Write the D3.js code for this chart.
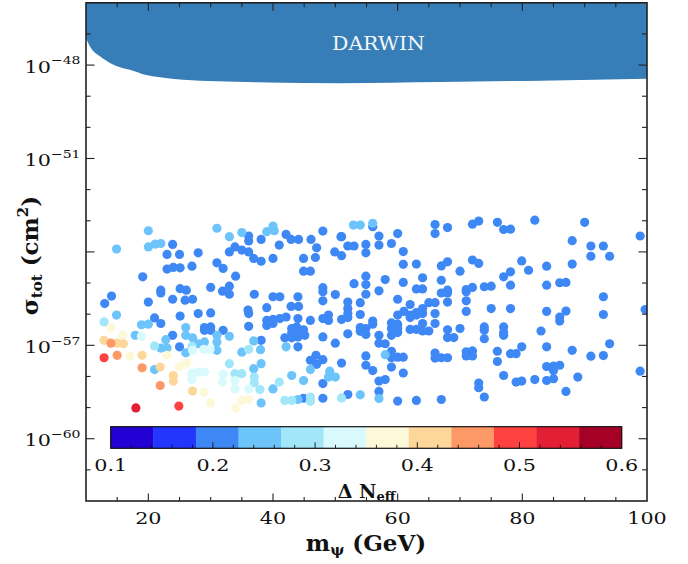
<!DOCTYPE html>
<html><head><meta charset="utf-8">
<script src="https://cdn.jsdelivr.net/npm/d3@7"></script>
<style>body{margin:0;background:#fff}svg{display:block}</style>
</head><body>
<svg id="c" width="688" height="564"></svg>
<script>
// ---------- data ----------
const xTicks=[20,40,60,80,100];
const yTickExps=[-48,-51,-57,-60];
const cbTicks=[0.1,0.2,0.3,0.4,0.5,0.6];
const cbColors=["#2300d4","#2236fe","#3e88f6","#6cc4fb","#a1e6f9","#d9fafc","#fdf8d8","#fdd699","#fc9966","#fe4242","#e31f35","#a50026"];
const darwinMass=[10,10.64,12.25,13.85,15.46,17.54,19.47,21.88,25.57,31.03,39.05,50.77,66.82,82.87,100];
const darwinLog=[-47.13,-47.40,-47.72,-47.93,-48.07,-48.18,-48.31,-48.39,-48.47,-48.52,-48.56,-48.58,-48.54,-48.50,-48.44];

const massGeV=[
52.9,54.0,56.0,56.0,66.0,68.0,72.0,73.0,76.0,77.0,
78.1,82.0,90.0,98.9,51.0,57.0,60.0,66.0,88.0,52.0,
53.0,54.9,57.0,59.0,54.9,51.0,60.9,91.0,93.0,91.0,
94.0,79.9,72.0,73.0,68.0,67.0,60.9,63.0,81.0,83.9,
88.0,70.0,54.9,58.0,64.0,67.0,77.0,78.1,53.0,54.9,
60.9,78.1,83.9,86.0,87.0,73.9,75.0,72.0,71.0,71.0,
63.0,64.0,67.0,68.0,68.0,57.0,54.9,93.0,60.0,52.0,
54.0,62.0,65.0,66.0,68.0,71.0,75.0,78.1,83.9,87.0,
99.7,52.0,52.0,52.0,51.0,54.0,60.0,61.0,62.0,62.0,
63.0,63.0,64.0,64.0,66.0,71.0,86.0,86.0,93.0,56.0,
56.0,59.0,60.0,60.0,59.0,64.0,66.0,54.0,54.0,54.9,
54.9,52.0,62.0,63.0,64.0,65.0,60.0,59.0,57.0,57.0,
58.0,68.0,70.0,68.0,69.0,73.9,73.9,73.9,77.0,77.0,
77.0,83.0,79.9,83.9,88.0,94.0,51.0,54.9,58.0,59.0,
59.0,60.0,60.9,66.0,66.0,67.0,68.0,71.0,72.0,71.0,
72.0,76.0,76.0,78.1,79.0,91.0,93.0,54.9,56.0,59.0,
60.9,57.0,58.0,73.0,73.0,77.0,79.0,79.9,82.0,83.9,
85.0,86.0,85.0,83.9,85.0,88.9,98.9,87.0,52.0,54.0,
51.0,57.0,57.0,60.0,63.0,67.0,73.9,
20.0,31.0,14.9,20.0,21.1,22.0,23.9,33.0,35.0,36.1,
36.1,38.1,39.0,40.0,40.2,42.1,42.9,44.1,46.1,48.0,
50.9,23.0,25.0,28.0,33.0,33.9,35.0,36.1,36.9,38.1,
40.0,41.0,44.9,47.0,46.8,49.9,23.0,24.0,25.1,27.0,
31.0,32.0,34.0,19.1,44.9,46.0,30.0,33.0,31.9,33.0,
22.0,22.0,25.1,26.1,37.0,48.0,48.0,50.0,14.1,13.0,
20.0,23.9,25.9,27.1,40.0,41.1,44.0,48.0,39.0,42.9,
44.1,36.0,36.1,28.0,30.0,25.1,21.0,14.9,22.0,18.9,
20.0,26.0,29.0,30.0,29.0,30.0,32.0,36.1,39.0,40.0,
41.1,42.1,39.0,40.0,44.0,46.0,48.0,48.9,48.9,43.0,
43.8,44.9,43.0,44.0,41.9,43.0,44.0,45.1,48.0,17.9,
23.9,27.1,26.0,28.0,29.0,31.0,33.0,31.0,36.9,38.1,
42.1,44.0,50.0,21.0,22.0,23.0,25.0,27.0,28.9,26.0,
29.9,31.0,35.0,36.1,46.9,46.0,48.0,47.0,33.0,36.9,
38.1,21.0,46.0,49.1,48.9,28.0,29.0,32.0,33.9,35.0,
37.0,43.0,50.0,27.0,31.9,33.9,37.0,44.9,41.0,48.0,
33.9,36.1,40.0,41.9,43.0,44.0,44.9,46.0,46.0,48.0,
38.1,35.0,36.1,34.0,30.0,12.9,14.0,12.9,14.0,15.0,
16.0,15.9,12.9,15.0,17.0,19.0,19.0,21.9,21.9,18.0,
24.9,23.0,25.0,26.1,24.0,24.0,27.1,28.9,27.0,27.1,
22.8,18.9,38.0,37.9];

const log10Sigma=[
-53.14,-53.14,-53.08,-53.19,-53.12,-53.22,-53.11,-53.01,-53.05,-53.28,
-53.27,-52.98,-53.05,-53.49,-53.51,-53.49,-53.41,-53.41,-53.64,-53.81,
-53.81,-53.76,-53.78,-53.73,-54.03,-54.12,-53.99,-53.81,-53.81,-54.14,
-54.14,-54.29,-54.26,-54.37,-54.32,-54.45,-54.40,-54.39,-54.59,-54.46,
-54.39,-54.62,-54.78,-54.89,-54.83,-54.91,-54.80,-54.64,-55.02,-55.05,
-54.98,-55.07,-55.07,-54.99,-54.98,-55.12,-55.10,-55.14,-55.21,-55.28,
-55.19,-55.19,-55.32,-55.23,-55.32,-55.25,-55.36,-55.44,-55.52,-55.61,
-55.63,-55.69,-55.63,-55.63,-55.61,-55.57,-55.82,-55.82,-55.91,-55.90,
-55.85,-55.82,-55.98,-56.11,-56.17,-56.01,-56.03,-55.91,-56.03,-56.11,
-56.03,-55.95,-55.82,-55.98,-55.98,-55.91,-56.09,-56.22,-56.01,-56.22,
-56.32,-56.28,-56.32,-56.46,-56.46,-56.30,-56.30,-56.43,-56.55,-56.46,
-56.65,-56.63,-56.49,-56.49,-56.54,-56.54,-56.59,-56.68,-56.68,-56.93,
-56.95,-56.50,-56.46,-56.75,-56.75,-56.41,-56.52,-56.79,-56.41,-56.59,
-56.68,-56.54,-57.05,-57.05,-57.16,-56.95,-57.57,-57.34,-57.30,-57.19,
-57.40,-57.38,-57.38,-57.25,-57.41,-57.40,-57.40,-57.21,-57.18,-57.34,
-57.34,-57.19,-57.52,-57.27,-57.27,-57.35,-57.33,-57.64,-57.81,-57.70,
-57.89,-58.15,-58.10,-58.21,-58.36,-57.97,-58.18,-58.15,-58.10,-57.68,
-57.67,-57.64,-57.81,-58.13,-58.07,-58.02,-57.83,-58.48,-58.58,-58.59,
-58.69,-58.48,-58.71,-58.79,-58.77,-58.74,-58.66,
-53.32,-53.24,-53.91,-53.84,-53.75,-53.73,-53.76,-53.51,-53.38,-53.49,
-53.65,-53.60,-53.35,-53.17,-53.32,-53.44,-53.60,-53.60,-53.60,-53.33,
-53.51,-54.08,-54.08,-54.03,-54.00,-53.84,-53.94,-54.00,-54.21,-54.30,
-54.21,-53.78,-54.21,-53.87,-54.18,-54.00,-54.55,-54.50,-54.51,-54.46,
-54.35,-54.53,-54.78,-54.80,-54.62,-54.62,-55.14,-55.10,-55.26,-55.36,
-55.23,-55.32,-55.18,-55.23,-55.36,-55.15,-55.28,-55.37,-55.42,-55.66,
-55.61,-55.52,-55.55,-55.52,-55.44,-55.44,-55.44,-55.57,-55.79,-55.75,
-55.75,-55.87,-55.98,-55.98,-55.96,-56.06,-56.12,-56.03,-56.30,-56.34,
-56.32,-56.43,-56.43,-56.41,-56.52,-56.52,-56.52,-56.39,-56.20,-56.17,
-56.14,-56.09,-56.36,-56.30,-56.14,-56.20,-56.14,-56.03,-56.20,-56.46,
-56.41,-56.50,-56.60,-56.60,-56.76,-56.76,-56.73,-56.68,-56.73,-56.68,
-56.68,-56.76,-56.68,-56.95,-56.89,-56.68,-56.71,-56.89,-56.86,-56.84,
-57.05,-57.05,-56.93,-57.02,-57.09,-57.09,-57.05,-57.03,-57.13,-57.24,
-57.13,-57.16,-57.22,-57.13,-57.32,-57.48,-57.46,-57.61,-57.59,-57.75,
-57.59,-57.78,-57.78,-57.83,-58.02,-57.86,-57.86,-57.93,-57.91,-57.91,
-58.02,-57.97,-58.02,-58.10,-58.18,-58.13,-58.21,-58.13,-58.18,-58.23,
-58.40,-58.40,-58.40,-58.77,-58.77,-58.74,-58.70,-58.66,-58.80,-58.70,
-58.85,-58.77,-58.74,-59.02,-58.85,-56.25,-56.43,-56.84,-56.93,-56.93,
-56.95,-56.68,-57.40,-57.32,-57.34,-57.32,-57.72,-57.70,-58.29,-59.01,
-58.95,-57.32,-57.68,-57.57,-57.97,-58.15,-58.47,-58.51,-57.91,-57.16,
-56.82,-56.71,-57.14,-58.42];

const deltaNeff=[
.24,.24,.24,.20,.20,.20,.20,.20,.20,.20,
.20,.20,.20,.20,.20,.20,.20,.20,.20,.20,
.20,.20,.20,.20,.20,.20,.20,.20,.20,.20,
.20,.20,.20,.20,.20,.20,.20,.20,.20,.20,
.20,.20,.20,.20,.20,.20,.20,.20,.20,.20,
.20,.20,.20,.20,.20,.20,.20,.20,.20,.20,
.20,.20,.20,.20,.20,.20,.20,.20,.20,.20,
.20,.20,.20,.20,.20,.20,.20,.20,.20,.20,
.20,.20,.20,.20,.20,.20,.20,.20,.20,.20,
.20,.20,.20,.20,.20,.20,.20,.20,.20,.20,
.20,.20,.20,.20,.20,.20,.20,.20,.20,.20,
.20,.20,.20,.20,.20,.20,.20,.20,.20,.20,
.20,.20,.20,.20,.20,.20,.20,.20,.20,.20,
.20,.20,.20,.20,.20,.20,.20,.20,.24,.20,
.20,.20,.20,.20,.20,.20,.20,.20,.20,.20,
.20,.20,.20,.20,.20,.20,.20,.20,.20,.20,
.20,.20,.20,.20,.20,.20,.20,.20,.20,.20,
.20,.20,.20,.20,.20,.20,.20,.20,.20,.24,
.29,.20,.24,.20,.20,.20,.20,
.24,.24,.24,.24,.24,.24,.20,.24,.24,.20,
.20,.20,.24,.24,.24,.20,.20,.20,.20,.20,
.20,.20,.20,.20,.20,.20,.20,.20,.20,.20,
.20,.20,.20,.20,.20,.20,.20,.20,.20,.20,
.20,.20,.20,.20,.20,.20,.20,.20,.20,.20,
.20,.20,.20,.20,.20,.20,.20,.20,.20,.20,
.20,.20,.20,.20,.20,.20,.20,.20,.20,.20,
.20,.20,.20,.20,.20,.20,.20,.24,.20,.24,
.24,.24,.20,.20,.20,.20,.20,.20,.20,.20,
.20,.20,.20,.20,.20,.20,.20,.20,.20,.20,
.20,.20,.20,.20,.20,.20,.20,.20,.20,.24,
.20,.24,.24,.24,.24,.24,.24,.24,.24,.20,
.24,.20,.20,.29,.24,.24,.20,.29,.33,.24,
.33,.24,.24,.29,.20,.20,.20,.20,.29,.24,
.24,.24,.24,.24,.24,.33,.33,.33,.29,.29,
.29,.24,.24,.33,.33,.33,.29,.24,.29,.20,
.33,.33,.24,.29,.29,.24,.20,.29,.29,.20,
.24,.37,.37,.37,.37,.29,.37,.41,.45,.41,
.41,.37,.50,.45,.37,.41,.45,.41,.45,.54,
.50,.37,.37,.37,.41,.41,.41,.37,.33,.33,
.24,.33,.24,.29];

// ---------- layout ----------
const L=86,R=647,T=2.8,B=501;
const SX=1.22; // horizontal glyph stretch of tick labels
const FONT="DejaVu Serif";
const svg=d3.select("#c").attr("font-family",FONT);
const x=d3.scaleLinear().domain([10,100]).range([L,R]);
const y=d3.scaleLog().domain([1e-62,1e-46]).range([B,T]);
const cb=d3.scaleLinear().domain([0.1,0.6]).range([110.7,621.7]);
const color=d3.scaleQuantize().domain([0.1,0.6]).range(cbColors);

svg.append("defs").append("clipPath").attr("id","pc").append("rect")
  .attr("x",L).attr("y",T).attr("width",R-L).attr("height",B-T);

// DARWIN region
const darwin=darwinMass.map((m,i)=>({m,s:Math.pow(10,darwinLog[i])}));
svg.append("path").datum(darwin).attr("clip-path","url(#pc)").attr("fill","#377eb8")
  .attr("d",d3.area().x(d=>x(d.m)).y0(y(1e-46)).y1(d=>y(d.s)).curve(d3.curveMonotoneX));
svg.append("text").attr("x",378.5).attr("y",50).attr("text-anchor","middle")
  .attr("font-size",19).attr("fill","#f4f6fa").attr("textLength",93).attr("lengthAdjust","spacingAndGlyphs").text("DARWIN");

// scatter
const n=Math.min(massGeV.length,log10Sigma.length,deltaNeff.length);
const pts=d3.range(n).map(i=>({m:massGeV[i],s:Math.pow(10,log10Sigma[i]),v:deltaNeff[i]})).sort((a,b)=>a.v-b.v);
svg.append("g").attr("clip-path","url(#pc)").selectAll("circle").data(pts).join("circle")
  .attr("cx",d=>x(d.m)).attr("cy",d=>y(d.s)).attr("r",4.6).attr("fill",d=>color(d.v));

// colorbar
const nb=cbColors.length, step=(0.6-0.1)/nb;
const cbTop=426.7, cbBot=448.3;
svg.append("g").selectAll("rect").data(cbColors).join("rect")
  .attr("x",(c,i)=>cb(0.1+i*step)).attr("y",cbTop)
  .attr("width",(c,i)=>cb(0.1+(i+1)*step)-cb(0.1+i*step)+0.4).attr("height",cbBot-cbTop)
  .attr("fill",c=>c);
svg.append("rect").attr("x",cb(0.1)).attr("y",cbTop).attr("width",cb(0.6)-cb(0.1)).attr("height",cbBot-cbTop)
  .attr("fill","none").attr("stroke","#111").attr("stroke-width",1.2);
const cbMinor=d3.range(0.12,0.6,0.02);
svg.append("g").selectAll("line").data(cbMinor).join("line")
  .attr("x1",d=>cb(d)).attr("x2",d=>cb(d)).attr("y1",cbBot).attr("y2",d=>{
    const major=Math.abs(d*10-Math.round(d*10))<1e-6; return cbBot-(major?6:3.5);})
  .attr("stroke","#111").attr("stroke-width",0.9);
cbTicks.forEach(v=>{
  svg.append("text").attr("transform",`translate(${cb(v)},471) scale(${SX},1)`)
    .attr("text-anchor","middle").attr("font-size",17).attr("fill","#111").text(d3.format(".1f")(v));
});
const cbl=svg.append("text").attr("x",366.5).attr("y",498).attr("text-anchor","middle")
  .attr("font-size",19).attr("font-weight","bold").attr("fill","#111");
cbl.append("tspan").text("Δ N");
cbl.append("tspan").attr("font-size",13).attr("dy",3).text("eff");

// frame
svg.append("rect").attr("x",L).attr("y",T).attr("width",R-L).attr("height",B-T)
  .attr("fill","none").attr("stroke","#222").attr("stroke-width",1.6);

// ticks
const tg=svg.append("g").attr("stroke","#222").attr("stroke-width",1.1);
function tk(x1,y1,x2,y2){tg.append("line").attr("x1",x1).attr("y1",y1).attr("x2",x2).attr("y2",y2);}
d3.range(15,100,5).forEach(v=>{
  const major=v%20===0;
  tk(x(v),B,x(v),B-(major?7.5:4));
  tk(x(v),T,x(v),T+(major?8:4.5));
});
d3.range(-61,-46).forEach(e=>{
  const major=(e+48)%3===0;
  const yy=y(Math.pow(10,e));
  tk(L,yy,L+(major?8.5:4.5),yy);
  tk(R,yy,R-(major?8.5:5),yy);
});

// x tick labels
xTicks.forEach(v=>{
  svg.append("text").attr("transform",`translate(${x(v)},523.5) scale(${SX},1)`)
    .attr("text-anchor","middle").attr("font-size",17).attr("fill","#111").text(v);
});
// y tick labels
yTickExps.forEach(e=>{
  const t=svg.append("text").attr("transform",`translate(80.5,${y(Math.pow(10,e))+7.6}) scale(${SX},1)`)
    .attr("text-anchor","end").attr("font-size",17).attr("fill","#111");
  t.append("tspan").text("10");
  t.append("tspan").attr("dy",-8.3).attr("font-size",11.5).text("\u2212"+Math.abs(e));
});

// axis labels
const xl=svg.append("text").attr("x",366).attr("y",551).attr("text-anchor","middle")
  .attr("font-size",23).attr("font-weight","bold").attr("fill","#111");
xl.append("tspan").text("m");
xl.append("tspan").attr("font-size",15).attr("dy",4).text("ψ");
xl.append("tspan").attr("dy",-4).text(" (GeV)");

const yl=svg.append("text").attr("transform","translate(38,255.5) rotate(-90)").attr("text-anchor","middle")
  .attr("font-size",23).attr("font-weight","bold").attr("fill","#111");
yl.append("tspan").text("σ");
yl.append("tspan").attr("font-size",15).attr("dy",4).text("tot");
yl.append("tspan").attr("dy",-4).text(" (cm");
yl.append("tspan").attr("font-size",15).attr("dy",-10).text("2");
yl.append("tspan").attr("dy",10).text(")");
</script>
</body></html>
